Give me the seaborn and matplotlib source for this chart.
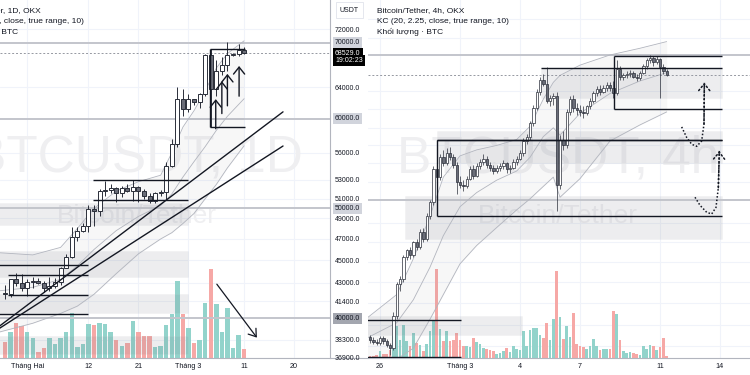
import pandas as pd
import seaborn as sns
import matplotlib.pyplot as plt
import matplotlib.transforms as mtransforms
from matplotlib.lines import Line2D
from matplotlib.ticker import NullLocator

sns.set_theme(style='white')
plt.rcParams['font.family'] = ['Liberation Sans', 'DejaVu Sans']

# ---------------- left pane: BTC/USDT 1D (28 Jan - 11 Mar 2024) ----------------
day_start = pd.Timestamp('2024-01-28')
day_open = [42120, 42030, 43300, 42940, 42580, 43080, 43190, 43010, 42580, 42700, 43090, 44340, 45290, 47140,
            47770, 48290, 49920, 49700, 51800, 51910, 52130, 51650, 52130, 51780, 52260, 51850, 51300, 50750,
            51570, 51730, 54480, 57050, 62500, 61180, 62440, 62030, 63160, 68300, 63780, 66100, 66930, 68300,
            68500, 69020]
day_high = [42840, 43310, 43880, 43740, 43290, 43480, 43380, 43120, 43540, 43400, 44400, 45600, 48200, 48170,
            48580, 50330, 50370, 52000, 52820, 52570, 52180, 52380, 52500, 52980, 52380, 52040, 51560, 51700,
            51960, 54940, 57550, 64000, 63680, 63160, 62480, 63200, 68500, 69170, 67600, 67980, 70160, 68600,
            69900, 69400]
day_low = [41620, 41800, 42700, 42280, 41880, 42570, 42880, 42220, 42260, 42570, 42800, 44330, 45250, 46800,
           47620, 47710, 48300, 49250, 51320, 51580, 50630, 51160, 51680, 50780, 50620, 50950, 50530, 50580,
           51280, 50900, 54450, 56700, 60360, 60790, 61670, 61300, 62820, 59000, 62840, 65600, 66180, 68100,
           68100, 68400]
day_close = [42030, 43300, 42940, 42580, 43080, 43190, 43010, 42580, 42700, 43090, 44340, 45290, 47140, 47770,
             48290, 49920, 49700, 51800, 51910, 52130, 51650, 52130, 51780, 52260, 51850, 51300, 50750, 51570,
             51730, 54480, 57050, 62500, 61180, 62440, 62030, 63160, 68300, 63780, 66100, 66930, 68300, 68500,
             69020, 68529]
day_volume = [16, 26, 35, 32, 26, 20, 6, 10, 20, 14, 20, 26, 45, 11, 14, 34, 33, 35, 34, 26, 18, 12, 15, 37,
              26, 22, 22, 11, 12, 33, 44, 77, 44, 30, 15, 18, 55, 90, 54, 26, 50, 10, 23, 9]

# Keltner channel, read at some bars (bar index from 28 Jan)
day_kc_idx = [-1, 5, 10, 13, 16, 20, 24, 28, 30, 32, 34, 36, 38, 40, 43]
day_kc_upper = [45700, 45500, 46200, 48000, 50000, 51800, 52800, 53500, 56000, 59000, 61000, 63500, 66500, 68500, 70300]
day_kc_mid = [42300, 42600, 43300, 44500, 46000, 47800, 49200, 50300, 51500, 53300, 55000, 56700, 58600, 60300, 62500]
day_kc_lower = [38900, 39600, 40400, 41000, 42000, 43800, 45600, 47000, 47600, 48500, 49500, 51000, 52500, 54300, 56800]

day_tick_dates = pd.to_datetime(['2024-02-01', '2024-02-12', '2024-02-21', '2024-03-01', '2024-03-11', '2024-03-20'])
day_tick_labels = ['Tháng Hai', '12', '21', 'Tháng 3', '11', '20']
day_price_ticks = [72000, 64000, 56000, 53000, 51000, 49000, 47000, 45000, 43000, 41400, 38300, 36900]

# drawings on the left pane (bar index, price)
day_zones = [(-3, 32.9, 48350, 50600), (-3, 32.9, 43500, 45900), (-3, 32.9, 40400, 42000), (-3, 32.9, 37230, 38620)]
day_lines = [(-3, 14.9, 44560), (0.5, 14.9, 43660), (0.5, 14.9, 41970), (-3, 14.9, 40390),
             (15.8, 32.9, 52990), (15.8, 32.9, 50860)]
day_bracket = (36.9, 43.2, 59030, 69150)
day_trends = [((-1.5, 39200), (50, 60850)), ((-1.5, 39050), (50, 56770))]
day_up_arrows = [(37.9, 58800, 62440), (39.0, 60640, 64760), (40.0, 61600, 65730), (42.1, 62820, 66790)]
day_down_arrow = ((38.1, 42870), (45.3, 38460))

# ---------------- right pane: BTC/USDT 4h (25 Feb 12:00 - 11 Mar 08:00) ----------------
h4_start = pd.Timestamp('2024-02-25 12:00')
h4_open = [51900, 51750, 51650, 51600, 51850, 51700, 51450, 51300, 53100, 54900, 55200, 56500, 56900, 56600,
           57400, 57100, 58000, 57600, 59000, 59900, 62000, 61500, 62800, 62400, 63100, 62800, 62300, 61200,
           61000, 60900, 61400, 62000, 61600, 62200, 62500, 62700, 62300, 62100, 61900, 62100, 62200, 62400,
           62000, 62100, 62500, 62700, 63100, 63900, 64200, 65100, 66200, 67300, 68200, 67900, 66700, 66900,
           67000, 61000, 64000, 63600, 65900, 66800, 66200, 66000, 65900, 65800, 66300, 66700, 67200, 67500,
           67300, 67600, 67800, 67600, 67200, 69000, 68400, 68500, 68600, 68700, 68400, 68300, 68700, 69200,
           69600, 69800, 69500, 69700, 69100, 68800]
h4_high = [52000, 51900, 51800, 51950, 51950, 51800, 51600, 53300, 55000, 55400, 56600, 57000, 57100, 57500,
           57600, 58200, 58300, 59200, 60000, 62200, 64000, 63000, 63300, 63400, 63500, 63000, 62500, 61600,
           61300, 61600, 62200, 62300, 62400, 62700, 63000, 62900, 62500, 62300, 62300, 62400, 62600, 62500,
           62300, 62700, 62900, 63300, 64100, 64400, 65300, 66400, 67500, 68400, 68600, 69100, 67100, 67200,
           67300, 64300, 64600, 66100, 67000, 67100, 66500, 66400, 66300, 66400, 66900, 67400, 67700, 67800,
           67800, 68000, 68000, 68100, 69600, 69200, 68700, 68800, 68900, 68800, 68600, 68800, 69300, 69800,
           70000, 69900, 69900, 69800, 69300, 68950]
h4_low = [51600, 51550, 51450, 51500, 51550, 51350, 50950, 51200, 52900, 54500, 55000, 56300, 56400, 56500,
          56900, 57000, 57400, 57500, 58800, 59700, 59200, 61300, 62200, 62300, 62600, 62100, 60400, 60800,
          60600, 60800, 61300, 61400, 61500, 62000, 62300, 62100, 61900, 61700, 61800, 61900, 62000, 61800,
          61800, 62000, 62300, 62600, 62900, 63700, 64000, 64900, 66000, 67100, 67700, 66500, 66300, 66400,
          59300, 60700, 63300, 63400, 65700, 65900, 65700, 65600, 65500, 65700, 66100, 66500, 67000, 67100,
          67200, 67400, 67400, 66900, 67100, 68200, 68200, 68300, 68400, 68300, 68100, 68200, 68600, 69000,
          69400, 69200, 69300, 66900, 68600, 68450]
h4_close = [51750, 51650, 51600, 51850, 51700, 51450, 51300, 53100, 54900, 55200, 56500, 56900, 56600, 57400,
            57100, 58000, 57600, 59000, 59900, 62000, 61500, 62800, 62400, 63100, 62800, 62300, 61200, 61000,
            60900, 61400, 62000, 61600, 62200, 62500, 62700, 62300, 62100, 61900, 62100, 62200, 62400, 62000,
            62100, 62500, 62700, 63100, 63900, 64200, 65100, 66200, 67300, 68200, 67900, 66700, 66900, 67000,
            61000, 64000, 63600, 65900, 66800, 66200, 66000, 65900, 65800, 66300, 66700, 67200, 67500, 67300,
            67600, 67800, 67600, 67200, 69000, 68400, 68500, 68600, 68700, 68400, 68300, 68700, 69200, 69600,
            69800, 69500, 69700, 69100, 68800, 68529]
h4_volume = [2, 2, 3, 7, 4, 4, 8, 22, 32, 18, 33, 17, 12, 25, 15, 13, 7, 14, 27, 37, 90, 29, 17, 27, 17, 18,
             25, 18, 12, 12, 11, 20, 16, 14, 10, 9, 8, 7, 4, 5, 7, 10, 6, 12, 9, 8, 27, 12, 28, 30, 30, 23, 20,
             35, 18, 39, 87, 41, 19, 32, 21, 45, 14, 12, 11, 9, 12, 19, 12, 8, 9, 9, 9, 47, 44, 18, 7, 5, 6, 5,
             4, 3, 12, 9, 13, 12, 8, 11, 20, 2]

h4_kc_idx = [-1, 8, 13, 18, 22, 27, 32, 38, 44, 48, 52, 55, 57, 63, 72, 81, 89]
h4_kc_upper = [52950, 54300, 56400, 59000, 61500, 62900, 63300, 63600, 64000, 64900, 66800, 68000, 68500, 69250, 70000, 70500, 71000]
h4_kc_mid = [51850, 52700, 54000, 55900, 57800, 59600, 60500, 61300, 61900, 62800, 64200, 64800, 64300, 65800, 67200, 68100, 68700]
h4_kc_lower = [50800, 50700, 51300, 52900, 54300, 56100, 57200, 58300, 59400, 60100, 60900, 61500, 60200, 61400, 63900, 65000, 65900]

h4_tick_dates = pd.to_datetime(['2024-02-26', '2024-03-01', '2024-03-04', '2024-03-07', '2024-03-11', '2024-03-14'])
h4_tick_labels = ['26', 'Tháng 3', '4', '7', '11', '14']
h4_grid_ticks = [51400, 52600, 53800, 55000, 56200, 57400, 58600, 61200, 62400, 63600, 64800, 66100, 67400, 71300, 72700]

# drawings on the right pane (bar index, price)
h4_zones = [(51.3, 105.6, 66860, 69040), (20.1, 105.6, 62400, 64600), (10.5, 105.6, 57600, 60280), (-3, 45.6, 52020, 53070)]
h4_lines = [(51.3, 105.6, 69040), (20.1, 105.6, 63960), (-3, 27.3, 52850), (-3, 27.3, 50820)]
h4_brackets = [(73.2, 105.6, 66070, 69930), (20.1, 105.6, 59010, 63960)]
h4_curve1_idx = [93.5, 95.0, 96.5, 98.0, 99.5, 100.2, 100.3]
h4_curve1_px = [64860, 64140, 63680, 63540, 63900, 65060, 67990]
h4_curve2_idx = [97.5, 99.0, 101.0, 102.5, 103.8, 104.5, 104.8]
h4_curve2_px = [60200, 59690, 59250, 59140, 59560, 60810, 63230]

key_levels = [70000, 60000, 50000, 40000]
level_label_bg = ['#d1d4dc', '#d1d4dc', '#d1d4dc', '#a3a6af']
last_price = 68529
countdown = '19:02:23'

INK = '#131722'
TEAL = '#92d3cb'
SALMON = '#f6a8a6'
MARK = '#efeff1'

fig = plt.figure(figsize=(7.5, 3.75), dpi=100)


def make_pane(x0, x1):
    rect = [x0 / 750, 17 / 375, (x1 - x0) / 750, 358 / 375]
    g = fig.add_axes(rect, zorder=0)
    v = fig.add_axes(rect, zorder=1, sharex=g)
    p = fig.add_axes(rect, zorder=2, sharex=g, sharey=g)
    g.set_facecolor('white')
    v.set_facecolor('none')
    p.set_facecolor('none')
    p.set_yscale('log')
    p.yaxis.set_minor_locator(NullLocator())
    for a in (g, v, p):
        for s in a.spines.values():
            s.set_visible(False)
    g.grid(True, which='major', color='#f0f3fa', lw=0.8)
    g.tick_params(length=0, labelbottom=False, labelleft=False, labelright=False)
    v.tick_params(length=0, labelbottom=False, labelleft=False)
    v.set_yticks([])
    p.tick_params(length=0, labelsize=5.2, colors=INK)
    p.tick_params(axis='x', pad=3.4)
    p.spines['bottom'].set_visible(True)
    p.spines['bottom'].set_color('#b2b5be')
    p.spines['bottom'].set_linewidth(0.8)
    return g, v, p


def draw_candles(p, v, o, h, l, c, vol, body_w, vol_w, lw):
    x = list(range(len(o)))
    up = [ci >= oi for oi, ci in zip(o, c)]
    p.vlines(x, l, h, color='#2a2e39', lw=lw, zorder=6)
    bottoms = [min(a, b) for a, b in zip(o, c)]
    heights = [max(abs(b - a), 1) for a, b in zip(o, c)]
    p.bar(x, heights, bottom=bottoms, width=body_w, color=['white' if u else '#6a6d78' for u in up],
          edgecolor='#2a2e39', lw=lw, zorder=7)
    v.bar(x, vol, width=vol_w, color=[TEAL if u else SALMON for u in up], lw=0)
    v.set_ylim(0, max(vol) * 4)


def draw_kc(p, idx, upper, mid, lower):
    p.fill_between(idx, lower, upper, color='#787b86', alpha=0.06, lw=0, zorder=2)
    for vals in (upper, mid, lower):
        sns.lineplot(x=idx, y=vals, ax=p, color='#b2b5be', lw=0.6, zorder=3)
    p.set_xlabel('')
    p.set_ylabel('')


def draw_zones(p, zones, lines):
    for x0, x1, lo, hi in zones:
        p.fill_between([x0, x1], lo, hi, color='#787b86', alpha=0.13, lw=0.5, edgecolor='#cfd1d6', zorder=1)
    for x0, x1, y in lines:
        p.hlines(y, x0, x1, color=INK, lw=1.0, zorder=8)


def draw_levels(p):
    for lv in key_levels:
        p.axhline(lv, color='#c3c5cc', lw=1.4, zorder=1)
    p.axhline(last_price, color='#9598a1', lw=0.7, ls=(0, (2, 2)), zorder=4)


# ---------------- left pane ----------------
gL, vL, pL = make_pane(0, 330)
draw_kc(pL, day_kc_idx, day_kc_upper, day_kc_mid, day_kc_lower)
draw_zones(pL, day_zones, day_lines)
draw_levels(pL)
draw_candles(pL, vL, day_open, day_high, day_low, day_close, day_volume, 0.72, 0.8, 0.7)

bx0, bx1, blo, bhi = day_bracket
pL.hlines([blo, bhi], bx0, bx1, color=INK, lw=1.0, zorder=8)
pL.vlines(bx0, blo, bhi, color=INK, lw=1.0, zorder=8)
for (xa, ya), (xb, yb) in day_trends:
    pL.plot([xa, xb], [ya, yb], color=INK, lw=1.0, zorder=8)
for xa, lo, hi in day_up_arrows:
    pL.annotate('', xy=(xa, hi), xytext=(xa, lo),
                arrowprops=dict(arrowstyle='->,head_length=0.5,head_width=0.4', color=INK, lw=1.0,
                                mutation_scale=10, shrinkA=0, shrinkB=0), zorder=9)
pL.annotate('', xy=day_down_arrow[1], xytext=day_down_arrow[0],
            arrowprops=dict(arrowstyle='->,head_length=0.5,head_width=0.35', color=INK, lw=0.9,
                            mutation_scale=10, shrinkA=0, shrinkB=0), zorder=9)

pL.set_xlim(-0.9, 58.45)
pL.set_ylim(36900, 76380)
pL.set_xticks([(d - day_start).days for d in day_tick_dates])
pL.set_xticklabels(day_tick_labels)
pL.yaxis.tick_right()
pL.set_yticks(day_price_ticks)
pL.set_yticklabels([f'{t:.1f}' for t in day_price_ticks])
pL.tick_params(axis='y', pad=3.6, labelsize=5)
pL.spines['right'].set_visible(True)
pL.spines['right'].set_color('#b2b5be')
pL.spines['right'].set_linewidth(0.8)

gL.text(0.415, 1 - 172 / 358, 'BTCUSDT, 1D', transform=gL.transAxes, ha='center', va='baseline',
        fontsize=37, color=MARK, clip_on=True)
gL.text(0.415, 1 - 223 / 358, 'Bitcoin/Tether', transform=gL.transAxes, ha='center', va='baseline',
        fontsize=19, color=MARK, clip_on=True)

legend_left = ['Bitcoin/Tether, 1D, OKX', 'KC (20, 2.25, close, true range, 10)', 'Khối lượng · BTC']
for row, txt in enumerate(legend_left):
    pL.text(-47.5 / 330, 1 - (11 + 10.3 * row) / 358, txt, transform=pL.transAxes, ha='left', va='center',
            fontsize=6, color=INK, clip_on=True)

ytr = mtransforms.blended_transform_factory(pL.transAxes, pL.transData)
for lv, bg in zip(key_levels, level_label_bg):
    pL.text(1 + 5 / 330, lv, f'{lv:.1f}', transform=ytr, ha='left', va='center', fontsize=5, color=INK,
            bbox=dict(boxstyle='square,pad=0.3', fc=bg, ec='none'), clip_on=False, zorder=20)
pL.text(1 + 5 / 330, last_price, f'{last_price:.1f}', transform=ytr, ha='left', va='center', fontsize=5,
        color='white', bbox=dict(boxstyle='square,pad=0.3', fc='black', ec='none'), clip_on=False, zorder=21)
pL.annotate(countdown, xy=(1 + 5 / 330, last_price), xycoords=ytr, xytext=(0, -5.2), textcoords='offset points',
            ha='left', va='center', fontsize=5, color='white',
            bbox=dict(boxstyle='square,pad=0.3', fc='black', ec='none'), annotation_clip=False, zorder=21)
pL.text(1 + 10 / 330, 1 - 10 / 358, 'USDT', transform=pL.transAxes, ha='left', va='center', fontsize=5,
        color=INK, bbox=dict(boxstyle='square,pad=0.6', fc='white', ec='#e0e3eb', lw=0.6), clip_on=False)
fig.add_artist(Line2D([330 / 750, 368 / 750], [17 / 375, 17 / 375], color='#b2b5be', lw=0.8))

# ---------------- right pane ----------------
gR, vR, pR = make_pane(368, 750)
draw_kc(pR, h4_kc_idx, h4_kc_upper, h4_kc_mid, h4_kc_lower)
draw_zones(pR, h4_zones, h4_lines)
draw_levels(pR)
draw_candles(pR, vR, h4_open, h4_high, h4_low, h4_close, h4_volume, 0.7, 0.75, 0.5)

for x0, x1, lo, hi in h4_brackets:
    pR.hlines([lo, hi], x0, x1, color=INK, lw=1.0, zorder=8)
    pR.vlines(x0, lo, hi, color=INK, lw=1.0, zorder=8)
for xs, ys in ((h4_curve1_idx, h4_curve1_px), (h4_curve2_idx, h4_curve2_px)):
    pR.plot(xs, ys, color=INK, lw=1.1, ls=(0, (1, 1.3)), zorder=9)
    pR.annotate('', xy=(xs[-1], ys[-1]), xytext=(xs[-2], ys[-2]),
                arrowprops=dict(arrowstyle='->,head_length=0.5,head_width=0.4', color=INK, lw=1.1, ls=':',
                                mutation_scale=10, shrinkA=0, shrinkB=0), zorder=9)

pR.set_xlim(-0.6, 114.0)
pR.set_ylim(50770, 74200)
pR.set_xticks([(d - h4_start) / pd.Timedelta(hours=4) for d in h4_tick_dates])
pR.set_xticklabels(h4_tick_labels)
pR.set_yticks(h4_grid_ticks)
pR.tick_params(axis='y', labelleft=False, labelright=False)

gR.text(0.497, 1 - 172 / 358, 'BTCUSDT, 4h', transform=gR.transAxes, ha='center', va='baseline',
        fontsize=37, color=MARK, clip_on=True)
gR.text(0.497, 1 - 223 / 358, 'Bitcoin/Tether', transform=gR.transAxes, ha='center', va='baseline',
        fontsize=19, color=MARK, clip_on=True)

legend_right = ['Bitcoin/Tether, 4h, OKX', 'KC (20, 2.25, close, true range, 10)', 'Khối lượng · BTC']
for row, txt in enumerate(legend_right):
    pR.text(9 / 382, 1 - (11 + 10.3 * row) / 358, txt, transform=pR.transAxes, ha='left', va='center',
            fontsize=6, color=INK, clip_on=True)

fig.savefig('out.png', dpi=100)
